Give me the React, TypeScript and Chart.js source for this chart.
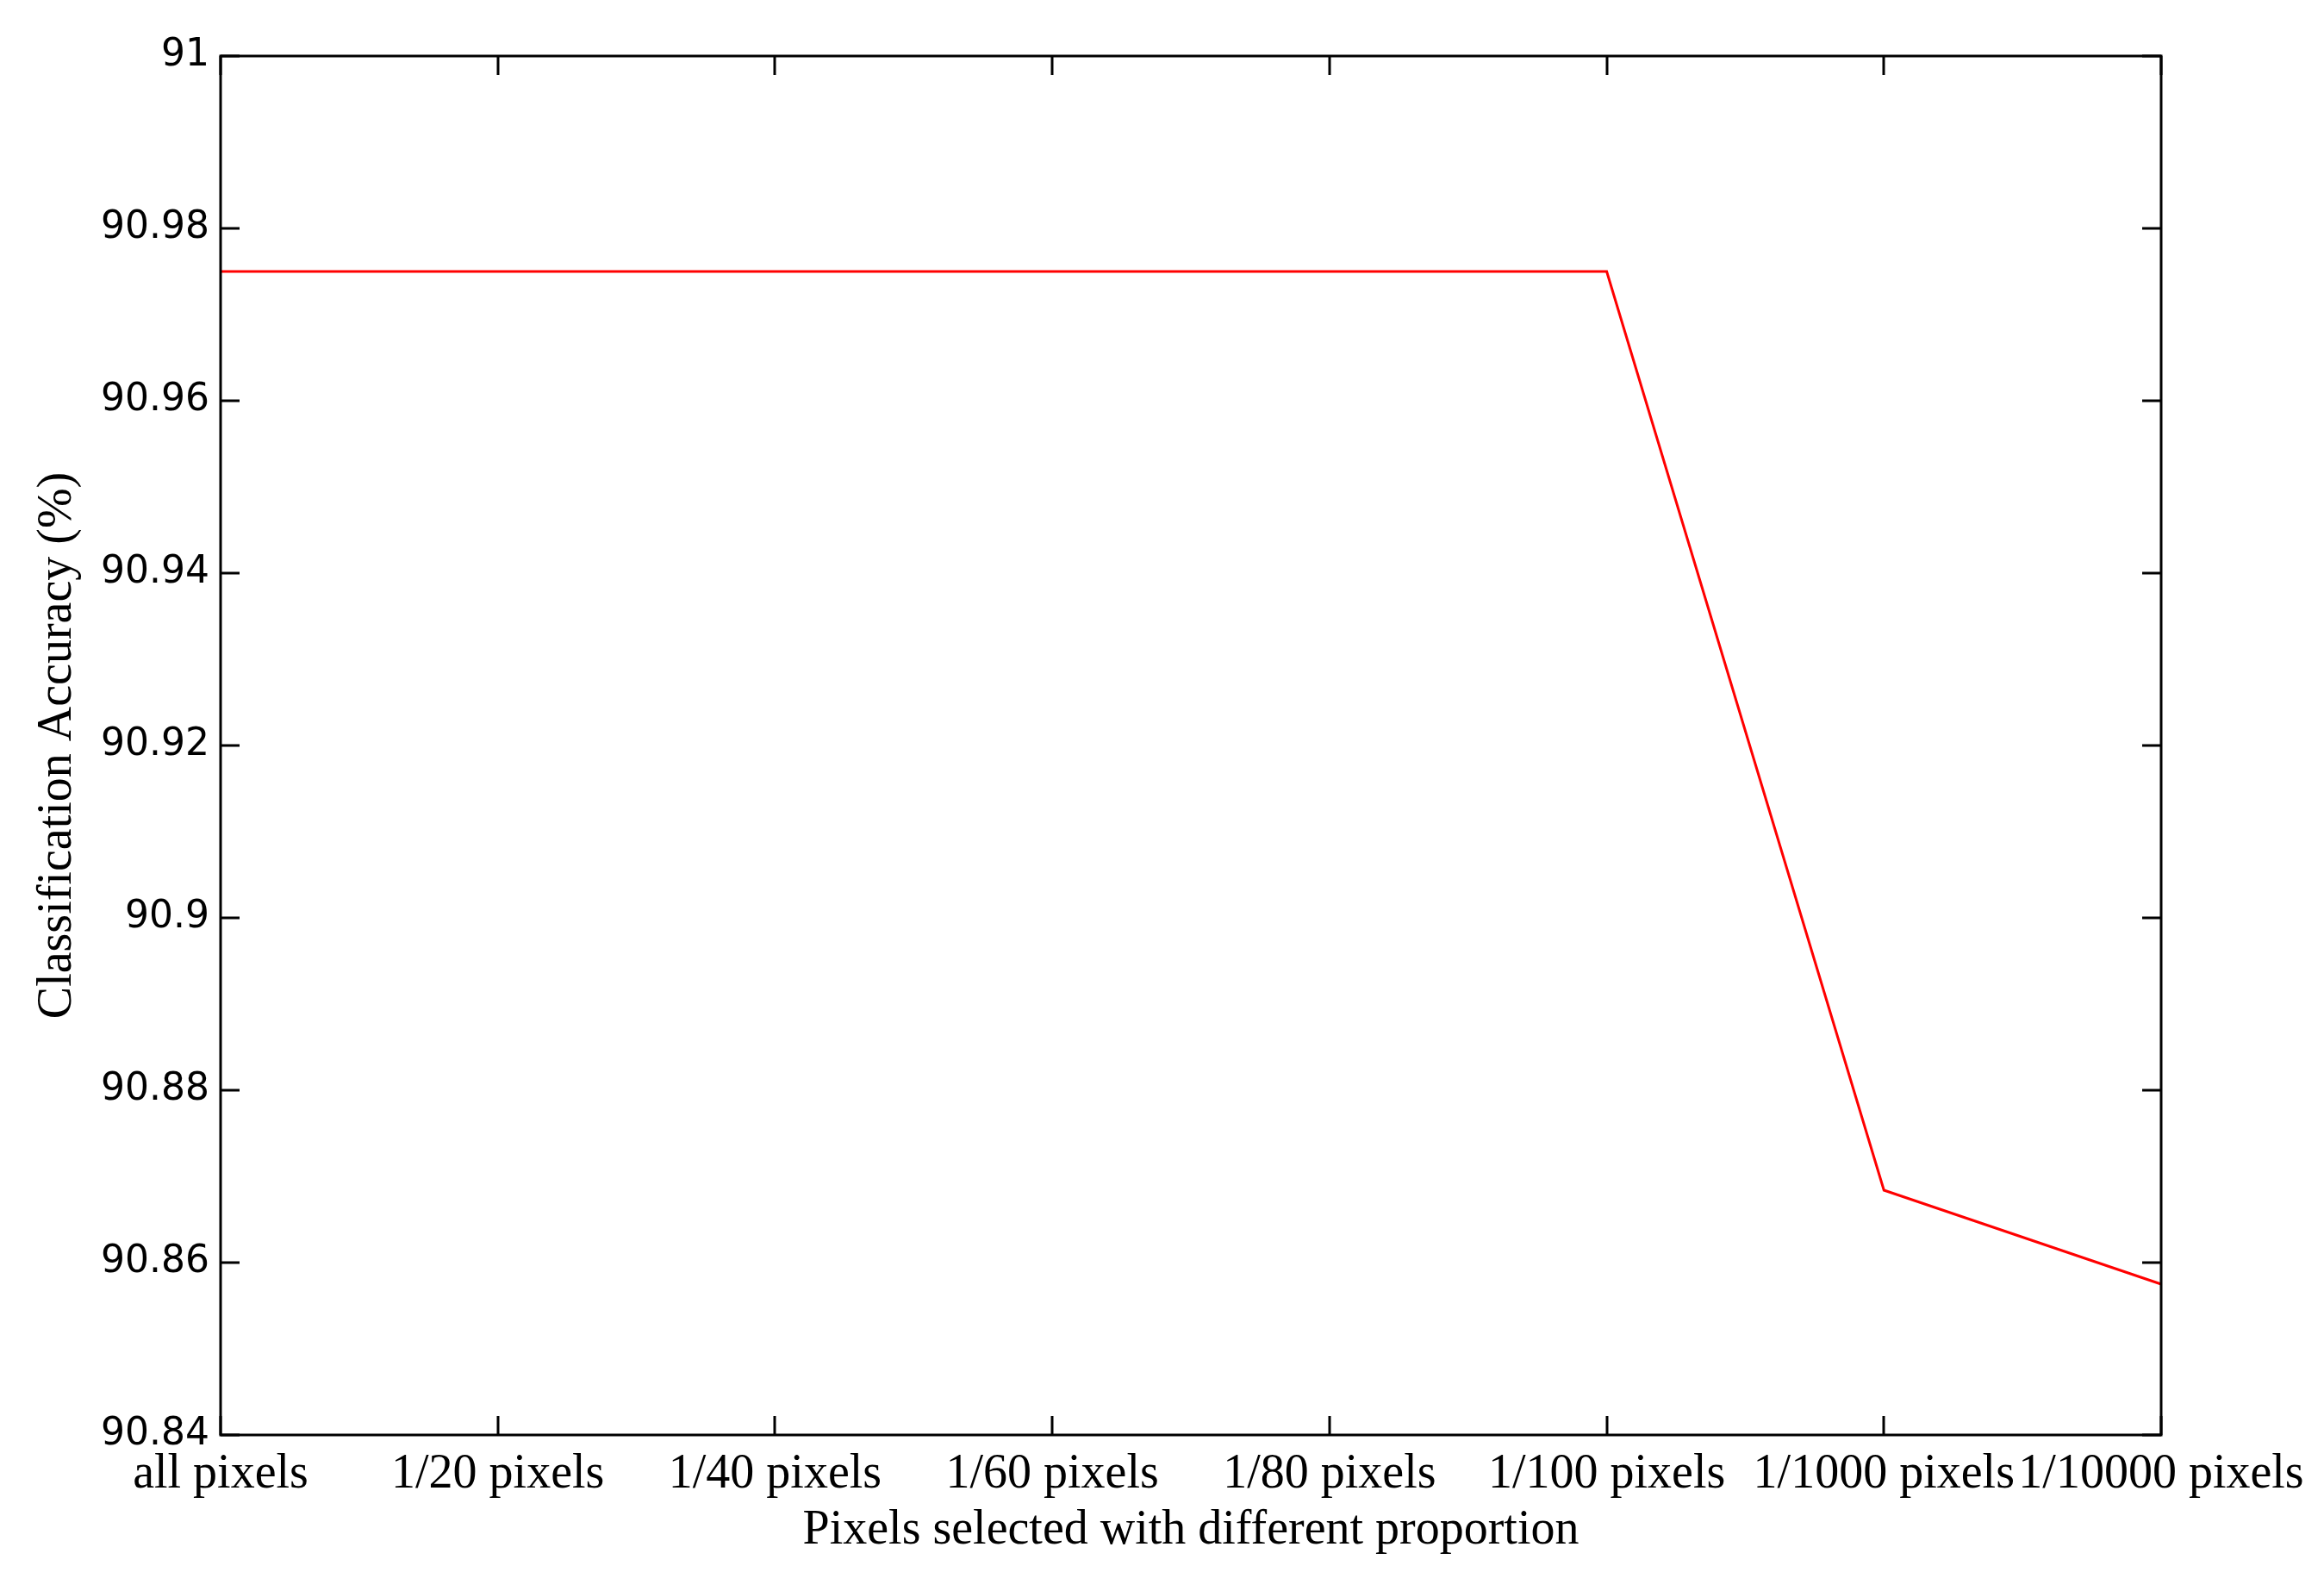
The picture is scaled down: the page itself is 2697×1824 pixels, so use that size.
import React, { useEffect, useRef } from "react";
import { Chart, registerables } from "chart.js";

Chart.register(...registerables);

const categories = [
  "all pixels",
  "1/20 pixels",
  "1/40 pixels",
  "1/60 pixels",
  "1/80 pixels",
  "1/100 pixels",
  "1/1000 pixels",
  "1/10000 pixels",
];
const accuracy = [90.975, 90.975, 90.975, 90.975, 90.975, 90.975, 90.8684, 90.8575];
const yMin = 90.84;
const yMax = 91;
const yStep = 0.02;
const xTitle = "Pixels selected with different proportion";
const yTitle = "Classification Accuracy (%)";

const W = 2697;
const H = 1824;
const LEFT = 256;
const RIGHT = 2508;
const TOP = 65;
const BOTTOM = 1665;
const TICK = 22;

const boxPlugin = {
  id: "matlabBox",
  afterDraw(chart: any) {
    const { ctx, chartArea } = chart;
    const { left, right, top, bottom } = chartArea;
    const xs = chart.scales.x;
    const ys = chart.scales.y;
    ctx.save();
    ctx.strokeStyle = "#000";
    ctx.lineWidth = 3;
    ctx.beginPath();
    ctx.rect(left, top, right - left, bottom - top);
    ctx.stroke();
    ctx.beginPath();
    xs.ticks.forEach((_: any, i: number) => {
      const px = Math.round(xs.getPixelForTick(i));
      ctx.moveTo(px, bottom);
      ctx.lineTo(px, bottom - TICK);
      ctx.moveTo(px, top);
      ctx.lineTo(px, top + TICK);
    });
    ys.ticks.forEach((_: any, i: number) => {
      const py = Math.round(ys.getPixelForTick(i));
      ctx.moveTo(left, py);
      ctx.lineTo(left + TICK, py);
      ctx.moveTo(right, py);
      ctx.lineTo(right - TICK, py);
    });
    ctx.stroke();
    ctx.restore();
  },
};

export default function App() {
  const ref = useRef<HTMLCanvasElement>(null);
  useEffect(() => {
    if (!ref.current) return;
    const chart = new Chart(ref.current, {
      type: "line",
      data: {
        labels: categories,
        datasets: [
          {
            data: accuracy,
            borderColor: "#ff0000",
            borderWidth: 3,
            pointRadius: 0,
            tension: 0,
            fill: false,
          },
        ],
      },
      options: {
        responsive: false,
        animation: false,
        devicePixelRatio: 1,
        layout: { padding: { top: TOP, right: W - RIGHT, left: 0, bottom: 0 } },
        plugins: { legend: { display: false }, tooltip: { enabled: false } },
        scales: {
          x: {
            type: "category",
            offset: false,
            grid: { display: false, drawTicks: false },
            border: { display: false },
            ticks: {
              autoSkip: false,
              maxRotation: 0,
              minRotation: 0,
              padding: 13,
              color: "#000",
              font: { family: "'Liberation Serif', serif", size: 56 },
            },
            title: {
              display: true,
              text: xTitle,
              color: "#000",
              font: { family: "'Liberation Serif', serif", size: 56 },
              padding: { top: 0, bottom: 14 },
            },
            afterFit(scale: any) {
              scale.height = H - BOTTOM;
            },
          },
          y: {
            min: yMin,
            max: yMax,
            grid: { display: false, drawTicks: false },
            border: { display: false },
            ticks: {
              stepSize: yStep,
              padding: 13,
              color: "#000",
              font: { family: "'DejaVu Sans', sans-serif", size: 44 },
              callback: (v: any) => String(Number(Number(v).toFixed(2))),
            },
            title: {
              display: true,
              text: yTitle,
              color: "#000",
              font: { family: "'Liberation Serif', serif", size: 56 },
              padding: { top: 34, bottom: 0 },
            },
            afterFit(scale: any) {
              scale.width = LEFT;
            },
          },
        },
      },
      plugins: [boxPlugin],
    });
    return () => chart.destroy();
  }, []);
  return (
    <div style={{ position: "absolute", left: 0, top: 0, width: W, height: H, background: "#fff" }}>
      <canvas ref={ref} width={W} height={H} style={{ width: W, height: H, display: "block" }} />
    </div>
  );
}
